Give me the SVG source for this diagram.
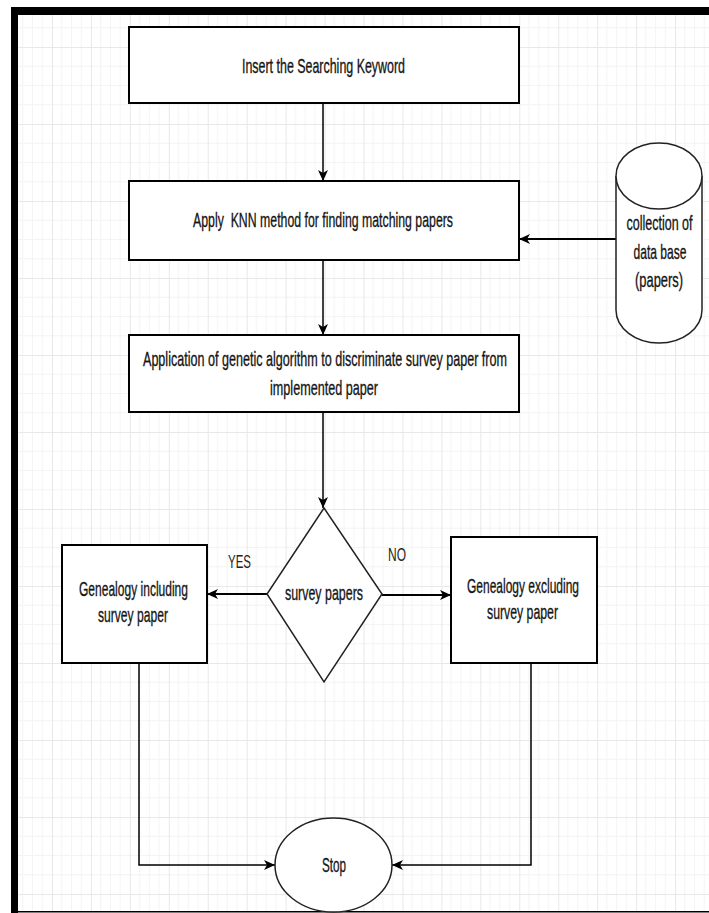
<svg xmlns="http://www.w3.org/2000/svg" width="709" height="913" viewBox="0 0 709 913">
<style>
.box{fill:#fff;stroke:#000;stroke-width:2}
.shape{fill:#fff;stroke:#222;stroke-width:1.5}
.edge{fill:none;stroke:#000;stroke-width:1.5}
.edge2{fill:none;stroke:#000;stroke-width:2}
text{font-family:"Liberation Sans",Arial,sans-serif;fill:#151515;stroke:#151515;stroke-width:0.35;text-anchor:middle;font-size:21px}
.lbl{font-size:18px;fill:#2a2018;stroke:none}
</style>
<defs>
<pattern id="grid" x="52" y="47" width="38.94" height="77" patternUnits="userSpaceOnUse">
<path d="M9.735,0V77M19.47,0V77M29.2,0V77M0,19.25H38.94M0,38.5H38.94M0,57.75H38.94" stroke="#f4f4f4" stroke-width="1" fill="none"/>
<path d="M0.5,0V77M0,0.5H38.94" stroke="#e8e8e8" stroke-width="1" fill="none"/>
</pattern>
<marker id="arr" markerUnits="userSpaceOnUse" markerWidth="12" markerHeight="10" refX="11" refY="5" orient="auto">
<path d="M0,0 L11,5 L0,10 L3,5 Z" fill="#000"/>
</marker>
</defs>
<rect x="0" y="0" width="709" height="913" fill="#fff"/>
<rect x="18" y="15" width="691" height="897" fill="url(#grid)"/>
<g id="frame">
<rect x="11" y="7" width="698" height="8" fill="#000"/>
<rect x="11" y="7" width="7" height="906" fill="#000"/>
<rect x="11" y="911" width="698" height="1.5" fill="#000"/>
</g>
<g id="connectors">
<path class="edge" d="M323,103 L323,181" marker-end="url(#arr)"/>
<path class="edge" d="M323,260 L323,335" marker-end="url(#arr)"/>
<path class="edge" d="M323,412 L323,508" marker-end="url(#arr)"/>
<path class="edge2" d="M616,239 L519,239" marker-end="url(#arr)"/>
<path class="edge2" d="M267,594 L207,594" marker-end="url(#arr)"/>
<path class="edge2" d="M382,595 L451,595" marker-end="url(#arr)"/>
<path class="edge" d="M139,663 L139,865 L275,865" marker-end="url(#arr)"/>
<path class="edge" d="M531,663 L531,865 L392,865" marker-end="url(#arr)"/>
<text class="lbl" x="239.5" y="568" textLength="23" lengthAdjust="spacingAndGlyphs">YES</text>
<text class="lbl" x="397" y="561" textLength="18" lengthAdjust="spacingAndGlyphs">NO</text>
</g>
<g id="n1">
<rect class="box" x="129" y="27" width="390" height="76"/>
<text x="323.5" y="73" textLength="163" lengthAdjust="spacingAndGlyphs">Insert the Searching Keyword</text>
</g>
<g id="n2">
<rect class="box" x="129" y="181" width="390" height="79"/>
<text x="323" y="227" textLength="260" lengthAdjust="spacingAndGlyphs" xml:space="preserve">Apply  KNN method for finding matching papers</text>
</g>
<g id="n3">
<rect class="box" x="129" y="335" width="390" height="77"/>
<text x="325" y="366" textLength="364" lengthAdjust="spacingAndGlyphs">Application of genetic algorithm to discriminate survey paper from</text>
<text x="324" y="395" textLength="108" lengthAdjust="spacingAndGlyphs">implemented paper</text>
</g>
<g id="db">
<path class="shape" d="M616,176 A43,33 0 0 1 702,176 L702,310 A43,33 0 0 1 616,310 Z"/>
<path class="shape" d="M616,176 A43,33 0 0 0 702,176" fill="none"/>
<text x="659.5" y="230" textLength="66" lengthAdjust="spacingAndGlyphs">collection of</text>
<text x="660" y="259" textLength="53" lengthAdjust="spacingAndGlyphs">data base</text>
<text x="659" y="287" textLength="48" lengthAdjust="spacingAndGlyphs">(papers)</text>
</g>
<g id="decision">
<polygon class="shape" points="324,508 382,594 324,682 267,594"/>
<text x="324" y="600" textLength="78" lengthAdjust="spacingAndGlyphs">survey papers</text>
</g>
<g id="incl">
<rect class="box" x="62" y="545" width="145" height="118"/>
<text x="133.5" y="596" textLength="109" lengthAdjust="spacingAndGlyphs">Genealogy including</text>
<text x="133" y="622" textLength="70" lengthAdjust="spacingAndGlyphs">survey paper</text>
</g>
<g id="excl">
<rect class="box" x="451" y="537" width="146" height="126"/>
<text x="523" y="593" textLength="112" lengthAdjust="spacingAndGlyphs">Genealogy excluding</text>
<text x="522.5" y="619" textLength="71" lengthAdjust="spacingAndGlyphs">survey paper</text>
</g>
<g id="stop">
<ellipse class="shape" cx="333.5" cy="865" rx="58.5" ry="47"/>
<text x="334" y="872" font-size="21" textLength="24" lengthAdjust="spacingAndGlyphs">Stop</text>
</g>
</svg>
